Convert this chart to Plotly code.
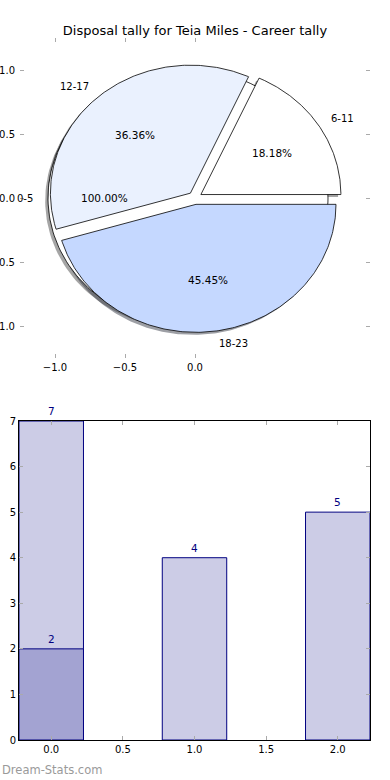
import numpy as np
import plotly.graph_objects as go

# ---------------- data ----------------
title_text = "Disposal tally for Teia Miles - Career tally"

# pie: the "0-5" group is drawn as a full (100%) wedge underneath the others
base_label = "0-5"
base_share = [1.0]
slice_labels = ["6-11", "12-17", "18-23"]
slice_values = [2, 4, 5]

base_color = "#ffffff"
slice_colors = ["#ffffff", "#eaf1fe", "#c5d8ff"]

pie_xticks = [-1.0, -0.5, 0.0]
pie_yticks = [-1.0, -0.5, 0.0, 0.5, 1.0]

# bar chart
bar_x = [0, 1, 2]
bar_total = [7, 4, 5]
bar_sub_x = [0]
bar_sub = [2]
bar_xticks = [0.0, 0.5, 1.0, 1.5, 2.0]
bar_yticks = [0, 1, 2, 3, 4, 5, 6, 7]

# ---------------- style ----------------
FONT = "DejaVu Sans"
EXPLODE = 0.05
SH = 0.02
W, H = 390, 780


def fmt(v):
    s = f"{v:.1f}"
    return s.replace("-", "\u2212")


def shadow_col(hexc):
    h = hexc.lstrip("#")
    r, g, b = (int(h[i:i + 2], 16) for i in (0, 2, 4))
    return f"rgba({int(r*0.3)},{int(g*0.3)},{int(b*0.3)},0.5)"


def wedge(t1, t2, full=False):
    mid = np.deg2rad((t1 + t2) / 2)
    cx, cy = EXPLODE * np.cos(mid), EXPLODE * np.sin(mid)
    th = np.deg2rad(np.linspace(t1, t2, 200))
    xs = cx + np.cos(th)
    ys = cy + np.sin(th)
    if not full:
        xs = np.concatenate([[cx], xs, [cx]])
        ys = np.concatenate([[cy], ys, [cy]])
    return xs, ys, mid


fig = go.Figure()
annotations = []

# build wedge geometry from data
wedges = []
total_base = sum(base_share)
xs, ys, mid = wedge(0, 360 * base_share[0] / total_base, full=True)
wedges.append((xs, ys, mid, base_color, base_label, base_share[0] / total_base))
total = sum(slice_values)
start = 0.0
for lab, val, col in zip(slice_labels, slice_values, slice_colors):
    t2 = start + 360.0 * val / total
    xs, ys, mid = wedge(start, t2)
    wedges.append((xs, ys, mid, col, lab, val / total))
    start = t2

# shadows
for xs, ys, mid, col, lab, fr in wedges:
    fig.add_trace(go.Scatter(x=xs - SH, y=ys - SH, mode="lines", fill="toself",
                             fillcolor=shadow_col(col), line=dict(width=0),
                             hoverinfo="skip", xaxis="x", yaxis="y"))
# wedges
for xs, ys, mid, col, lab, fr in wedges:
    fig.add_trace(go.Scatter(x=xs, y=ys, mode="lines", fill="toself",
                             fillcolor=col, line=dict(color="black", width=0.8),
                             hoverinfo="skip", xaxis="x", yaxis="y"))
# labels
for xs, ys, mid, col, lab, fr in wedges:
    r = 1.1 + EXPLODE
    lx, ly = r * np.cos(mid), r * np.sin(mid)
    annotations.append(dict(x=lx, y=ly, xref="x", yref="y", text=lab, showarrow=False,
                            xanchor="left" if lx > 0 else "right", yanchor="middle",
                            borderpad=0, font=dict(family=FONT, size=10, color="black")))
    rp = 0.6 + EXPLODE
    annotations.append(dict(x=rp * np.cos(mid), y=rp * np.sin(mid), xref="x", yref="y",
                            text=f"{fr*100:.2f}%", showarrow=False,
                            xanchor="center", yanchor="middle",
                            font=dict(family=FONT, size=10.5, color="black")))

# bars
fig.add_trace(go.Bar(x=bar_x, y=bar_total, width=0.45, marker=dict(color="#ccccE6", line=dict(color="#000080", width=1)),
                     xaxis="x2", yaxis="y2", hoverinfo="skip"))
fig.add_trace(go.Bar(x=bar_sub_x, y=bar_sub, width=0.45, marker=dict(color="#a3a3d2", line=dict(color="#000080", width=1)),
                     xaxis="x2", yaxis="y2", hoverinfo="skip"))
for xv, yv in list(zip(bar_x, bar_total)) + list(zip(bar_sub_x, bar_sub)):
    annotations.append(dict(x=xv, y=yv, xref="x2", yref="y2", text=str(yv), showarrow=False,
                            xanchor="center", yanchor="bottom", borderpad=0, yshift=3,
                            font=dict(family=FONT, size=10.5, color="#000080")))

annotations.append(dict(text="Dream-Stats.com", xref="paper", yref="paper", x=0, y=10 / H,
                        xanchor="left", yanchor="middle", showarrow=False,
                        font=dict(family=FONT, size=11.5, color="#9a9a9a")))

tick_common = dict(ticks="inside", ticklen=4, tickcolor="#aaaaaa", tickwidth=1,
                   showgrid=False, zeroline=False, automargin=False,
                   tickfont=dict(family=FONT, size=10, color="black"))

fig.update_layout(
    width=W, height=H, margin=dict(l=0, r=0, t=0, b=0),
    paper_bgcolor="white", plot_bgcolor="white", showlegend=False,
    barmode="overlay",
    font=dict(family=FONT),
    title=dict(text=title_text, x=0.5, xanchor="center", y=1 - 30 / H, yanchor="middle",
               font=dict(family=FONT, size=13, color="black")),
    xaxis=dict(domain=[20 / W, 370 / W], range=[-1.25, 1.25], anchor="y",
               tickvals=pie_xticks, ticktext=[fmt(v) for v in pie_xticks],
               showline=True, linecolor="rgba(0,0,0,0)", mirror="ticks", **tick_common),
    yaxis=dict(domain=[422 / H, 742 / H], range=[-1.25, 1.25], anchor="x",
               tickvals=pie_yticks, ticktext=[fmt(v) for v in pie_yticks],
               ticklabelstandoff=2,
               showline=True, linecolor="rgba(0,0,0,0)", mirror="ticks", **tick_common),
    xaxis2=dict(domain=[19 / W, 370 / W], range=[-0.225, 2.225], anchor="y2",
                tickvals=bar_xticks, ticktext=[fmt(v) for v in bar_xticks],
                showline=True, linecolor="black", linewidth=1, mirror="ticks", **tick_common),
    yaxis2=dict(domain=[40 / H, 359 / H], range=[0, 7], anchor="x2",
                tickvals=bar_yticks, ticktext=[str(v) for v in bar_yticks],
                showline=True, linecolor="black", linewidth=1, mirror="ticks", **tick_common),
    annotations=annotations,
)

fig.write_html("out.html", config={"displayModeBar": False},
               post_script="document.body.style.margin='0';document.body.style.padding='0';")
